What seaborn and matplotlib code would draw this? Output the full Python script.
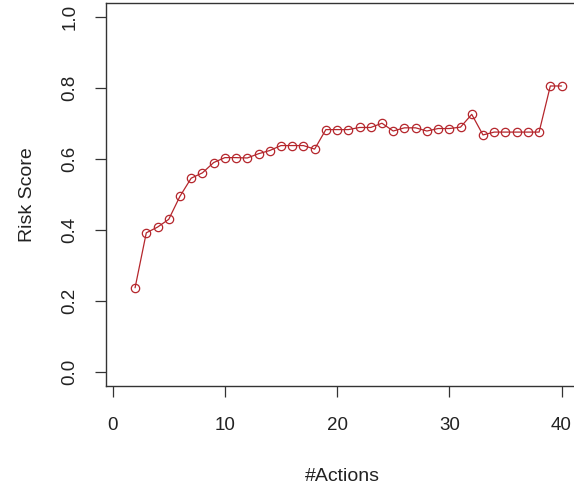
import pandas as pd
import seaborn as sns
import matplotlib.pyplot as plt

# Risk score per number of actions
actions = list(range(2, 41))
risk = [0.237, 0.392, 0.408, 0.430, 0.495, 0.546, 0.561, 0.590, 0.604, 0.604,
        0.603, 0.615, 0.624, 0.638, 0.638, 0.638, 0.628, 0.683, 0.683, 0.683,
        0.689, 0.689, 0.701, 0.679, 0.688, 0.688, 0.679, 0.686, 0.686, 0.690,
        0.726, 0.668, 0.676, 0.676, 0.676, 0.676, 0.676, 0.806, 0.806]
x_ticks = [0, 10, 20, 30, 40]
y_ticks = [0.0, 0.2, 0.4, 0.6, 0.8, 1.0]
y_tick_labels = ["0.0", "0.2", "0.4", "0.6", "0.8", "1.0"]

df = pd.DataFrame({"actions": actions, "risk": risk})

sns.set_style("ticks")
plt.rcParams['font.family'] = ['Liberation Sans', 'DejaVu Sans']

fig = plt.figure(figsize=(5.74, 4.86), dpi=100)
ax = fig.add_axes([106 / 574, 100 / 486, 472.6 / 574, 383 / 486])

red = "#b5262c"
sns.lineplot(data=df, x="actions", y="risk", ax=ax, color=red, linewidth=0.9,
             marker="o", markersize=6, markerfacecolor="none",
             markeredgecolor=red, markeredgewidth=0.9)

ax.set_xlim(-0.59, 41.52)
ax.set_ylim(-0.04, 1.04)
ax.set_xticks(x_ticks)
ax.set_xticklabels([str(t) for t in x_ticks])
ax.set_yticks(y_ticks)
ax.set_yticklabels(y_tick_labels, rotation=90, va="center")
ax.tick_params(axis="both", length=8, width=0.9, color="#333333",
               labelsize=13.5, labelcolor="#222222")
ax.tick_params(axis="x", pad=14)
ax.tick_params(axis="y", pad=12)

for side in ["left", "bottom", "top", "right"]:
    ax.spines[side].set_visible(True)
    ax.spines[side].set_linewidth(1.0)
    ax.spines[side].set_color("#333333")

ax.set_xlabel("#Actions", fontsize=14, color="#222222", labelpad=25)
ax.set_ylabel("Risk Score", fontsize=14, color="#222222", labelpad=18)

fig.savefig("out.png", dpi=100)
